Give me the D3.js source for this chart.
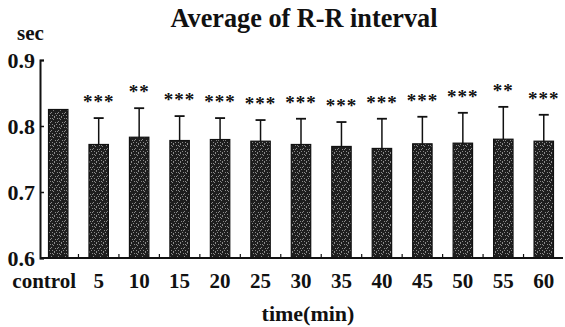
<!DOCTYPE html>
<html><head><meta charset="utf-8">
<script src="https://cdn.jsdelivr.net/npm/d3@7"></script>
<style>
html,body{margin:0;padding:0;background:#fff;}
svg{display:block;}
text{font-family:"Liberation Serif","Times New Roman",Tinos,serif;font-weight:bold;fill:#111;}
</style></head>
<body>
<svg id="chart" width="565" height="327"></svg>
<script>
const categories = ["control","5","10","15","20","25","30","35","40","45","50","55","60"];
const means = [0.825,0.772,0.783,0.778,0.7795,0.777,0.772,0.769,0.766,0.773,0.774,0.780,0.777];
const errors = [null,0.040,0.044,0.037,0.0325,0.032,0.039,0.037,0.045,0.041,0.046,0.049,0.040];
const signif = ["","***","**","***","***","***","***","***","***","***","***","**","***"];
const yTicks = [0.6,0.7,0.8,0.9];

const svg = d3.select("#chart");
const x = d3.scaleBand().domain(categories).range([38,564]).paddingInner(0.52).paddingOuter(0.26);
const y = d3.scaleLinear().domain([0.6,0.9]).range([258,60]);

// texture pattern
const defs = svg.append("defs");
const pat = defs.append("pattern").attr("id","grain").attr("patternUnits","userSpaceOnUse").attr("width",7).attr("height",9);
pat.append("rect").attr("width",7).attr("height",9).attr("fill","#1e1e1e");
const dots = [[1,1],[4,2],[2,4],[6,5],[0,7],[3,7],[5,8],[5,0],[3,1],[1,5]];
dots.forEach(d=>pat.append("rect").attr("x",d[0]).attr("y",d[1]).attr("width",1).attr("height",1).attr("fill","#8a8a8a"));

// title
svg.append("text").attr("x",304).attr("y",27).attr("text-anchor","middle").attr("textLength",267).attr("lengthAdjust","spacingAndGlyphs").style("font-size","28px").text("Average of R-R interval");
svg.append("text").attr("x",17).attr("y",40).style("font-size","21px").text("sec");

// bars
const g = svg.append("g");
g.selectAll("rect.bar").data(categories).join("rect").attr("class","bar")
  .attr("x",d=>x(d)).attr("width",x.bandwidth())
  .attr("y",(d,i)=>y(means[i])).attr("height",(d,i)=>y(0.6)-y(means[i]))
  .attr("fill","url(#grain)").attr("stroke","#111").attr("stroke-width",1.2);

// error bars
categories.forEach((c,i)=>{
  if(errors[i]==null) return;
  const cx = x(c)+x.bandwidth()/2;
  g.append("line").attr("x1",cx).attr("x2",cx).attr("y1",y(means[i])).attr("y2",y(means[i]+errors[i])).attr("stroke","#111").attr("stroke-width",1.5);
  g.append("line").attr("x1",cx-5).attr("x2",cx+5).attr("y1",y(means[i]+errors[i])).attr("y2",y(means[i]+errors[i])).attr("stroke","#111").attr("stroke-width",1.8);
  g.append("text").attr("x",cx).attr("y",y(means[i]+errors[i])-10).attr("text-anchor","middle")
   .style("font-size","19px").style("letter-spacing","1px").text(signif[i]);
});

// y axis
const yAxis = d3.axisLeft(y).tickValues(yTicks).tickFormat(d3.format(".1f")).tickSize(-4).tickPadding(5);
const ya = svg.append("g").attr("transform","translate(40,0)").call(yAxis);
ya.select(".domain").attr("stroke","#111").attr("stroke-width",2);
ya.selectAll(".tick line").attr("stroke","#111").attr("stroke-width",1.5);
ya.selectAll(".tick text").style("font-size","22px").attr("dy","0.35em");

// x axis
const xa = svg.append("g").attr("transform","translate(0,258)");
xa.append("line").attr("x1",40).attr("x2",563).attr("y1",0).attr("y2",0).attr("stroke","#111").attr("stroke-width",2);
const bounds = categories.slice(1).map(c=>x(c)-x.step()*x.paddingInner()/2);
xa.selectAll("line.tk").data(bounds).join("line").attr("class","tk").attr("x1",d=>d).attr("x2",d=>d).attr("y1",0).attr("y2",-4).attr("stroke","#111").attr("stroke-width",1.2);
xa.selectAll("text").data(categories).join("text")
  .attr("x",(d,i)=>x(d)+x.bandwidth()/2-(i===0?14:0)).attr("y",30)
  .attr("text-anchor","middle").style("font-size","21px").text(d=>d);

svg.append("text").attr("x",308).attr("y",321).attr("text-anchor","middle").style("font-size","22px").text("time(min)");
</script>
</body></html>
